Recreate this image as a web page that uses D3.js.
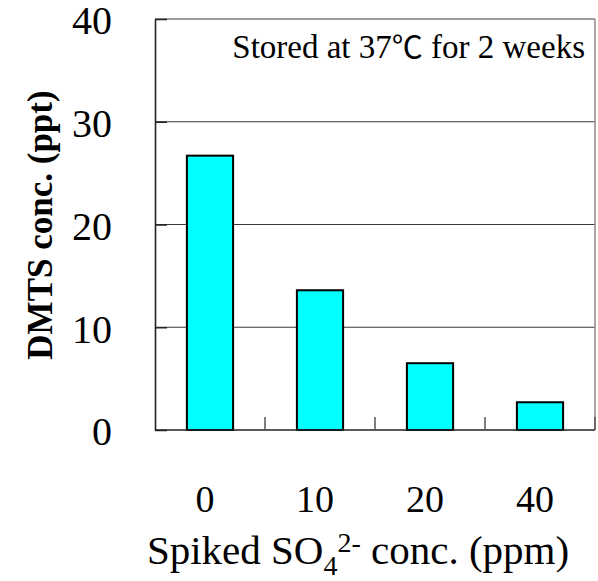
<!DOCTYPE html>
<html>
<head>
<meta charset="utf-8">
<script src="https://cdn.jsdelivr.net/npm/d3@7"></script>
<style>
  html, body { margin: 0; padding: 0; background: #fff; }
  svg { display: block; }
  svg text { font-family: "Liberation Serif", "Times New Roman", Times, "DejaVu Serif", serif; fill: #000; }
  svg text tspan.sym { font-family: "Noto Sans CJK JP", "Noto Sans", sans-serif; }
</style>
</head>
<body>
<svg id="chart" width="598" height="581"></svg>
<script>
// Spiked sulfate level (ppm) and DMTS measured after storage
const categories = ["0", "10", "20", "40"];
const dmts = [26.7, 13.6, 6.5, 2.7];
const yTicks = [0, 10, 20, 30, 40];

const serif = '"Liberation Serif", "Times New Roman", Times, "DejaVu Serif", serif';

const svg = d3.select("#chart");
const plot = { left: 155, right: 595, top: 19, bottom: 430 };

const x = d3.scaleBand()
  .domain(categories)
  .range([plot.left, plot.right])
  .paddingInner(0.58)
  .paddingOuter(0.29);

const y = d3.scaleLinear().domain([0, 40]).range([plot.bottom, plot.top]);

// horizontal gridlines
svg.append("g").selectAll("line")
  .data(yTicks.filter(d => d > 0 && d < 40))
  .join("line")
  .attr("x1", plot.left).attr("x2", plot.right)
  .attr("y1", d => y(d)).attr("y2", d => y(d))
  .attr("stroke", "#3a3a3a").attr("stroke-width", 1.2);

// frame: top and right edges
svg.append("line")
  .attr("x1", plot.left).attr("x2", plot.right)
  .attr("y1", y(40)).attr("y2", y(40))
  .attr("stroke", "#3a3a3a").attr("stroke-width", 1.2);
svg.append("line")
  .attr("x1", plot.right).attr("x2", plot.right)
  .attr("y1", y(40)).attr("y2", plot.bottom)
  .attr("stroke", "#8a8a8a").attr("stroke-width", 1.5);

// bars
svg.append("g").selectAll("rect")
  .data(categories.map((c, i) => ({ c, v: dmts[i] })))
  .join("rect")
  .attr("x", d => x(d.c))
  .attr("width", x.bandwidth())
  .attr("y", d => y(d.v))
  .attr("height", d => y(0) - y(d.v))
  .attr("fill", "#00ffff")
  .attr("stroke", "#000")
  .attr("stroke-width", 2);

// y axis with inward ticks
const yAxis = svg.append("g")
  .attr("transform", `translate(${plot.left},0)`)
  .call(d3.axisLeft(y).tickValues(yTicks).tickSize(-12).tickPadding(43).tickSizeOuter(0));
yAxis.attr("font-family", serif);
yAxis.select(".domain").attr("stroke", "#222").attr("stroke-width", 1.6);
yAxis.selectAll(".tick line").attr("stroke", "#222").attr("stroke-width", 1.5);
yAxis.selectAll(".tick text")
  .style("font-family", serif)
  .attr("font-size", 40)
  .attr("dy", "0.37em");

// x axis: baseline with ticks at category boundaries
const xAxis = svg.append("g")
  .attr("transform", `translate(0,${plot.bottom})`);
xAxis.append("line")
  .attr("x1", plot.left).attr("x2", plot.right)
  .attr("stroke", "#222").attr("stroke-width", 1.6);
const step = x.step();
const bounds = categories.map(c => x(c) + x.bandwidth() / 2 + step / 2);
xAxis.selectAll("line.tk")
  .data(bounds)
  .join("line").attr("class", "tk")
  .attr("x1", d => d).attr("x2", d => d)
  .attr("y1", 0).attr("y2", -13)
  .attr("stroke", "#555").attr("stroke-width", 1.5);
xAxis.selectAll("text")
  .data(categories)
  .join("text")
  .attr("x", d => x(d) + x.bandwidth() / 2 - 5)
  .attr("y", 82)
  .attr("text-anchor", "middle")
  .style("font-family", serif)
  .attr("font-size", 38)
  .text(d => d);

// axis titles
svg.append("text")
  .attr("transform", "translate(52,225) rotate(-90)")
  .attr("text-anchor", "middle")
  .style("font-family", serif)
  .attr("font-size", 35)
  .attr("font-weight", "bold")
  .text("DMTS conc. (ppt)");

const xt = svg.append("text")
  .attr("x", 358).attr("y", 564)
  .attr("text-anchor", "middle")
  .style("font-family", serif)
  .attr("font-size", 41);
xt.append("tspan").text("Spiked SO");
xt.append("tspan").attr("font-size", 28).attr("dy", 11).text("4");
xt.append("tspan").attr("font-size", 28).attr("dy", -23).text("2-");
xt.append("tspan").attr("dy", 12).text(" conc. (ppm)");

// storage condition note
const note = svg.append("text")
  .attr("x", 585).attr("y", 58)
  .attr("text-anchor", "end")
  .style("font-family", serif)
  .attr("font-size", 33);
note.append("tspan").text("Stored at 37");
note.append("tspan").attr("class", "sym").attr("font-size", 31).text("℃");
note.append("tspan").text(" for 2 weeks");
</script>
</body>
</html>
